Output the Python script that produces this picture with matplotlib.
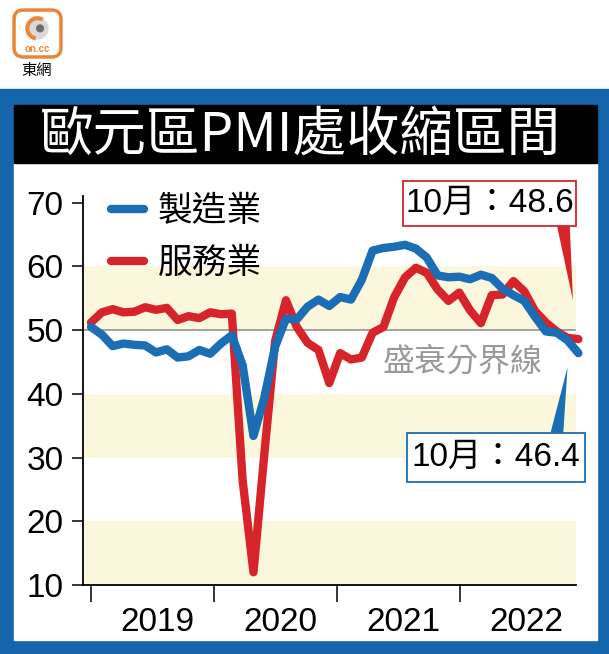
import matplotlib
matplotlib.use("Agg")
import matplotlib.pyplot as plt
from matplotlib.patches import Rectangle, FancyBboxPatch, Polygon, Circle, Wedge

plt.rcParams["font.family"] = ["Liberation Sans", "Noto Sans CJK TC"]

# monthly PMI, Jan 2019 .. Oct 2022
manufacturing = [
    50.5, 49.3, 47.5, 47.9, 47.7, 47.6, 46.5, 47.0, 45.7, 45.9, 46.9, 46.3,
    47.9, 49.2, 44.5, 33.4, 39.4, 47.4, 51.8, 51.7, 53.7, 54.8, 53.8, 55.2,
    54.8, 57.9, 62.5, 62.9, 63.1, 63.4, 62.8, 61.4, 58.6, 58.3, 58.4, 58.0,
    58.7, 58.2, 56.5, 55.5, 54.6, 52.1, 49.8, 49.6, 48.4, 46.4,
]
services = [
    51.2, 52.8, 53.3, 52.8, 52.9, 53.6, 53.2, 53.5, 51.6, 52.2, 51.9, 52.8,
    52.5, 52.6, 26.4, 12.0, 30.5, 48.3, 54.7, 50.5, 48.0, 46.9, 41.7, 46.4,
    45.4, 45.7, 49.6, 50.5, 55.2, 58.3, 59.8, 59.0, 56.4, 54.6, 55.9, 53.1,
    51.1, 55.5, 55.6, 57.7, 56.1, 53.0, 51.2, 49.8, 48.8, 48.6,
]
months = list(range(len(manufacturing)))
year_labels = ["2019", "2020", "2021", "2022"]
series_labels = ["製造業", "服務業"]
threshold = 50
threshold_label = "盛衰分界線"
title = "歐元區PMI處收縮區間"

BLUE = "#1b6db4"
RED = "#d7242b"
FRAME = "#1565ad"
BAND = "#fbf7dc"
W, H = 609, 654


def fx(px):
    return px / W


def fy(py):
    return 1 - py / H


fig = plt.figure(figsize=(W / 100, H / 100), dpi=100)

# blue frame, black title bar, white panel
fig.patches.append(Rectangle((0, 0), 1, fy(89), transform=fig.transFigure,
                             color=FRAME, zorder=-3))
fig.patches.append(Rectangle((fx(14), fy(640)), fx(597 - 14), fy(163) - fy(640),
                             transform=fig.transFigure, color="white", zorder=-2))
fig.patches.append(Rectangle((fx(14), fy(163)), fx(597 - 14), fy(105) - fy(163),
                             transform=fig.transFigure, color="black", zorder=-2))
fig.text(fx(300), fy(135), title, color="white", fontsize=38.5,
         family=["Noto Sans CJK TC"], ha="center", va="center")

# logo
lax = fig.add_axes([fx(12), fy(59), fx(51), fy(8) - fy(59)])
lax.set_xlim(0, 1)
lax.set_ylim(0, 1)
lax.axis("off")
lax.add_patch(FancyBboxPatch((0.04, 0.04), 0.92, 0.92,
                             boxstyle="round,pad=0,rounding_size=0.18",
                             fc="white", ec="#e8873a", lw=2.5))
lax.add_patch(Circle((0.5, 0.6), 0.22, fc="#d9d9d9", ec="none"))
lax.add_patch(Wedge((0.5, 0.6), 0.24, 60, 260, width=0.08, fc="#e8873a"))
lax.add_patch(Circle((0.55, 0.6), 0.08, fc="#6d6d6d"))
lax.text(0.5, 0.2, "on.cc", color="#e8873a", fontsize=7, fontweight="bold",
         ha="center", va="center")
fig.text(fx(37), fy(71), "東網", fontsize=11, family=["Noto Sans CJK TC"],
         ha="center", va="center")

# main axes
ax = fig.add_axes([fx(83), fy(585), fx(576 - 83), fy(196.4) - fy(585)])
ax.set_facecolor("none")
x_left = -0.74
x_right = 44.78
ax.set_xlim(x_left, x_right)
ax.set_ylim(10, 71)

for lo in (10, 30, 50):
    ax.axhspan(lo, lo + 10, color=BAND, lw=0, zorder=0)
ax.axhline(threshold, color="#8a8a8a", lw=1.1, zorder=1)

ax.plot(months, manufacturing, color=BLUE, lw=6, solid_joinstyle="round",
        solid_capstyle="round", clip_on=False, zorder=3, label=series_labels[0])
ax.plot(months, services, color=RED, lw=6, solid_joinstyle="round",
        solid_capstyle="round", clip_on=False, zorder=2, label=series_labels[1])

leg = ax.legend(loc="upper left", bbox_to_anchor=(-0.006, 1.087), frameon=False,
                handlelength=0.95, handletextpad=0.4, labelspacing=0.5,
                prop={"family": ["Noto Sans CJK TC"], "size": 25})

for s in ("top", "right"):
    ax.spines[s].set_visible(False)
for s in ("left", "bottom"):
    ax.spines[s].set_linewidth(1.3)

ax.set_yticks(range(10, 71, 10))
ax.tick_params(axis="y", labelsize=24, length=8, width=1.1, pad=6)

year_step = 11.36
ax.set_xticks([i * year_step for i in range(4)])
ax.set_xticklabels([])
ax.set_xticks([(i + 0.54) * year_step for i in range(4)], minor=True)
ax.set_xticklabels(year_labels, minor=True)
ax.tick_params(axis="x", which="major", length=12, width=1.1, direction="out")
ax.tick_params(axis="x", which="minor", length=0, labelsize=24, pad=16)

ax.text(34.3, 45.0, threshold_label, color="#999999", fontsize=23,
        family=["Noto Sans CJK TC"], ha="center", va="center", zorder=4)

# callouts for the latest readings
last = months[-1]
ax.add_patch(Polygon([(43.0, 66.6), (44.2, 66.6), (last - 0.5, services[-1] + 6.1)],
                     closed=True, fc=RED, ec="none", clip_on=False, zorder=5))
ax.add_patch(Rectangle((28.8, 66.4), 16.0, 7.0, fc="white", ec=RED, lw=1.3,
                       clip_on=False, zorder=6))
ax.text(36.8, 69.9, f"10月：{services[-1]}", fontsize=24, ha="center",
        va="center", zorder=7, clip_on=False)

ax.add_patch(Polygon([(42.4, 33.7), (43.6, 33.7), (last - 1.0, manufacturing[-1] - 2.2)],
                     closed=True, fc=BLUE, ec="none", clip_on=False, zorder=5))
ax.add_patch(Rectangle((29.2, 26.2), 16.4, 7.7, fc="white", ec=BLUE, lw=1.3,
                       clip_on=False, zorder=6))
ax.text(37.4, 30.0, f"10月：{manufacturing[-1]}", fontsize=24, ha="center",
        va="center", zorder=7, clip_on=False)

fig.savefig("out.png", dpi=100)
